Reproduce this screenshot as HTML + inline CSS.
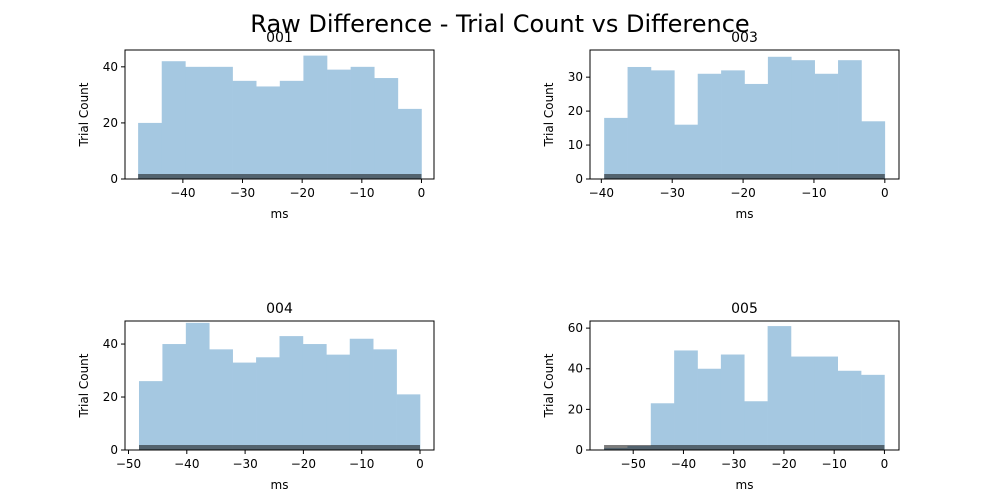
<!DOCTYPE html>
<html><head><meta charset="utf-8"><style>
body{margin:0;background:#fff;}
svg{display:block;font-family:"DejaVu Sans","Liberation Sans",sans-serif;}
</style></head><body>
<svg id="fig" width="1000" height="500">
<text x="500" y="32" text-anchor="middle" font-size="24">Raw Difference - Trial Count vs Difference</text>
</svg>
<script>
const titles=["001","003","004","005"];
const counts1=[20,42,40,40,35,33,35,44,39,40,36,25];
const counts2=[18,33,32,16,31,32,28,36,35,31,35,17];
const counts3=[26,40,48,38,33,35,43,40,36,42,38,21];
const counts4=[1,2,23,49,40,47,24,61,46,46,39,37];
const binStart=[-47.5,-39.6,-48.2,-55.8];
const binEnd=[0,0,0,0];
const xTicks1=[-40,-30,-20,-10,0];
const xTicks2=[-40,-30,-20,-10,0];
const xTicks3=[-50,-40,-30,-20,-10,0];
const xTicks4=[-50,-40,-30,-20,-10,0];
const yTicks1=[0,20,40];
const yTicks2=[0,10,20,30];
const yTicks3=[0,20,40];
const yTicks4=[0,20,40,60];
const xDom=[[-49.7,2.1],[-41.6,2.0],[-50.6,2.4],[-58.6,2.9]];
const yMax=[46,38,48.7,63.5];
const panels=[
 {x:125,y:50,c:counts1,xt:xTicks1,yt:yTicks1},
 {x:590,y:50,c:counts2,xt:xTicks2,yt:yTicks2},
 {x:125,y:321,c:counts3,xt:xTicks3,yt:yTicks3},
 {x:590,y:321,c:counts4,xt:xTicks4,yt:yTicks4}];
const W=309,H=129,NS="http://www.w3.org/2000/svg";
const svg=document.getElementById('fig');
function mk(t,a,p){const e=document.createElementNS(NS,t);for(const k in a)e.setAttribute(k,a[k]);(p||svg).appendChild(e);return e;}
panels.forEach((p,i)=>{
 const g=mk('g',{});
 
 
 const sx=v=>p.x+(v-xDom[i][0])/(xDom[i][1]-xDom[i][0])*W;
 const sy=v=>p.y+H-v/yMax[i]*H;
 const n=p.c.length,bw=(binEnd[i]-binStart[i])/n;
 p.c.forEach((v,j)=>{
  const x0=sx(binStart[i]+j*bw),x1=sx(binStart[i]+(j+1)*bw);
  const r=mk('rect',{x:x0,y:sy(v),width:x1-x0+0.3,height:sy(0)-sy(v),fill:'#a5c8e1'},g);
  
  
 });
 const rug=mk('rect',{x:sx(binStart[i]),y:p.y+H-5,width:sx(binEnd[i])-sx(binStart[i]),height:5,fill:'#111',opacity:0.55},g);
 
 
 const fr=mk('rect',{x:p.x,y:p.y,width:W,height:H,fill:'none',stroke:'#000','stroke-width':1},g);
 
 
 p.xt.forEach(t=>{
  const x=sx(t);
  mk('line',{x1:x,x2:x,y1:p.y+H,y2:p.y+H+4,stroke:'#000'},g);
  const tx=mk('text',{x:x,y:p.y+H+18,'text-anchor':'middle','font-size':12},g);
  tx.textContent=(t<0?'\u2212'+(-t):t);
  
  
 });
 p.yt.forEach(t=>{
  const y=sy(t);
  mk('line',{x1:p.x-4,x2:p.x,y1:y,y2:y,stroke:'#000'},g);
  const tx=mk('text',{x:p.x-7,y:y+4,'text-anchor':'end','font-size':12},g);
  tx.textContent=t;
  
  
 });
 const xl=mk('text',{x:p.x+W/2,y:p.y+H+39,'text-anchor':'middle','font-size':12},g);
 xl.textContent='ms';
 
 
 const yl=mk('text',{x:0,y:0,'text-anchor':'middle','font-size':12,transform:`translate(${p.x-37},${p.y+H/2}) rotate(-90)`},g);
 yl.textContent='Trial Count';
 
 
 const st=mk('text',{x:p.x+W/2,y:p.y-8,'text-anchor':'middle','font-size':14},g);
 st.textContent=titles[i];
 
 
});
</script>
</body></html>
